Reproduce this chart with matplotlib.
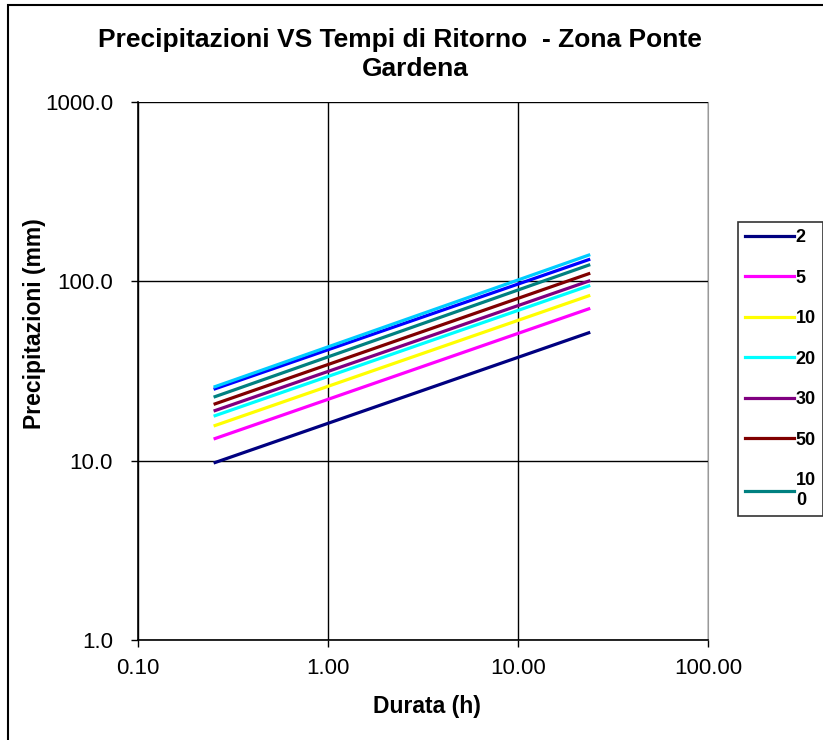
import matplotlib
matplotlib.use("Agg")
import matplotlib.pyplot as plt
from matplotlib.patches import Rectangle
from matplotlib.lines import Line2D

plt.rcParams['font.family'] = ['Liberation Sans', 'DejaVu Sans']

durations = [0.25, 24.0]
return_periods = ["2", "5", "10", "20", "30", "50", "10\n0", "200", "500"]
colors = ["#000080", "#FF00FF", "#FFFF00", "#00FFFF", "#800080",
          "#800000", "#008080", "#0000FF", "#00CCFF"]
p_2 = [9.7, 52.0]
p_5 = [13.2, 70.7]
p_10 = [15.6, 83.6]
p_20 = [17.7, 95.0]
p_30 = [18.9, 101.0]
p_50 = [20.6, 111.0]
p_100 = [22.6, 124.0]
p_200 = [25.0, 133.0]
p_500 = [25.7, 141.0]
series = [p_2, p_5, p_10, p_20, p_30, p_50, p_100, p_200, p_500]

x_ticks = [0.1, 1, 10, 100]
x_labels = ["0.10", "1.00", "10.00", "100.00"]
y_ticks = [1, 10, 100, 1000]
y_labels = ["1.0", "10.0", "100.0", "1000.0"]

fig = plt.figure(figsize=(8.23, 7.4), dpi=100)
ax = fig.add_axes([138/823, 1-640/740, (708-138)/823, (640-102)/740])
ax.set_xscale('log')
ax.set_yscale('log')
ax.set_xlim(0.1, 100)
ax.set_ylim(1, 1000)

for vals, c in zip(series, colors):
    ax.plot(durations, vals, color=c, lw=2.3, solid_capstyle='butt')

ax.set_xticks(x_ticks)
ax.set_xticklabels(x_labels)
ax.set_yticks(y_ticks)
ax.set_yticklabels(y_labels)
ax.minorticks_off()
ax.tick_params(axis='both', labelsize=16, direction='out', length=5, width=1, color='black')
ax.tick_params(axis='y', pad=13)
ax.tick_params(axis='x', pad=8)
ax.grid(True, which='major', color='black', lw=1)
ax.set_axisbelow(True)
ax.spines['top'].set_visible(False)
ax.spines['right'].set_color('#999999')
ax.spines['left'].set_linewidth(1.2)
ax.spines['bottom'].set_linewidth(1.2)

fig.text(400/823, 1-28/740, "Precipitazioni VS Tempi di Ritorno  - Zona Ponte",
         ha='center', va='top', fontsize=19, fontweight='bold')
fig.text(415/823, 1-57/740, "Gardena",
         ha='center', va='top', fontsize=19, fontweight='bold')
fig.text(427/823, 1-706/740, "Durata (h)", ha='center', va='center', fontsize=16.5, fontweight='bold')
fig.text(35/823, 1-324/740, "Precipitazioni (mm)", ha='center', va='center', rotation=90,
         fontsize=16.5, fontweight='bold')

leg_handles = [Line2D([0], [0], color=c, lw=2.3) for c in colors[:7]]
leg = fig.legend(leg_handles, return_periods[:7], loc='upper left',
                 bbox_to_anchor=(738/823, 1-222/740), frameon=True, fancybox=False,
                 edgecolor='black', prop={'weight': 'bold', 'size': 13},
                 handlelength=2.7, handletextpad=0.1, labelspacing=1.3,
                 borderpad=0.4, borderaxespad=0)
leg.get_frame().set_linewidth(1.2)

fig.patches.append(Rectangle((8/823, -0.01), 1.0, 1-5/740 + 0.01, transform=fig.transFigure,
                             fill=False, edgecolor='black', lw=1.5, clip_on=False))

fig.savefig("out.png", dpi=100)
